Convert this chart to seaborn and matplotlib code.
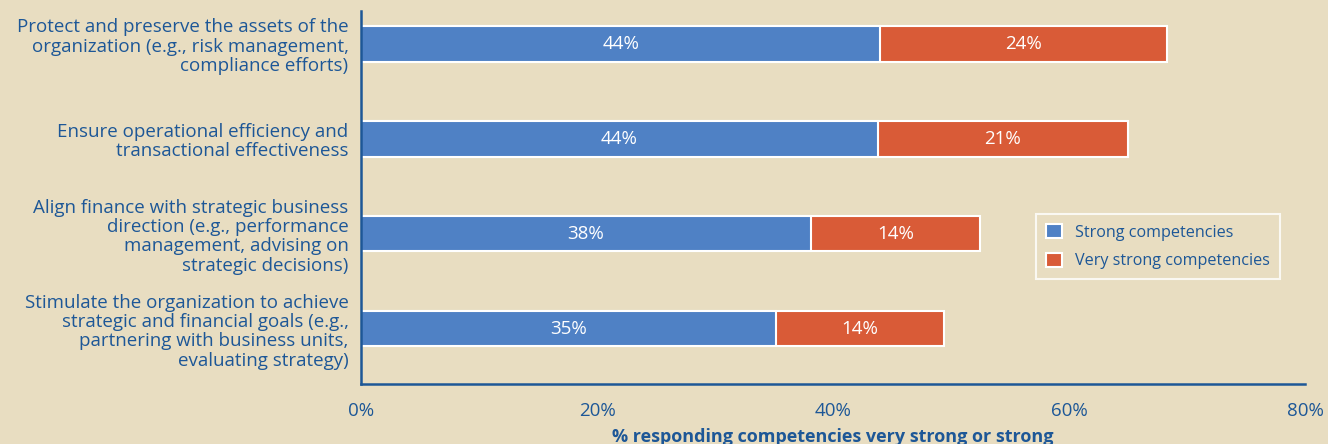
import numpy as np
import pandas as pd
import matplotlib
matplotlib.use('Agg')
import matplotlib.pyplot as plt
from matplotlib.patches import Patch
import seaborn as sns

sns.set_style("white")
plt.rcParams['font.family'] = ['Open Sans', 'DejaVu Sans']

# data
categories = [
    "Protect and preserve the assets of the\norganization (e.g., risk management,\ncompliance efforts)",
    "Ensure operational efficiency and\ntransactional effectiveness",
    "Align finance with strategic business\ndirection (e.g., performance\nmanagement, advising on\nstrategic decisions)",
    "Stimulate the organization to achieve\nstrategic and financial goals (e.g.,\npartnering with business units,\nevaluating strategy)",
]
strong = [44.0, 43.8, 38.1, 35.2]
very_strong = [24.3, 21.2, 14.4, 14.2]
xticks = [0, 20, 40, 60, 80]

df = pd.DataFrame({"cat": categories, "strong": strong, "very": very_strong})
df["total"] = df["strong"] + df["very"]

bg = "#E8DDC1"
navy = "#1D5797"
blue = "#4F81C5"
orange = "#D95B37"

fig = plt.figure(figsize=(13.28, 4.44), dpi=100, facecolor=bg)
ax = fig.add_axes([361 / 1328, 1 - 384 / 444, (1305 - 361) / 1328, (384 - 11) / 444])
ax.set_facecolor(bg)

# stacked: draw totals (orange) first, then blue over them
sns.barplot(data=df, y="cat", x="total", color=orange, orient="h", width=0.37,
            edgecolor="white", linewidth=1.5, saturation=1, ax=ax)
sns.barplot(data=df, y="cat", x="strong", color=blue, orient="h", width=0.37,
            edgecolor="white", linewidth=1.5, saturation=1, ax=ax)

# segment labels
for i, row in df.iterrows():
    ax.text(row["strong"] / 2, i, f"{row['strong']:.0f}%", color="white",
            ha="center", va="center", fontsize=13.5)
    ax.text(row["strong"] + row["very"] / 2, i, f"{row['very']:.0f}%", color="white",
            ha="center", va="center", fontsize=13.5)

ax.set_xlim(0, 80)
ax.set_ylim(3.58, -0.347)
ax.set_xticks(xticks)
ax.set_xticklabels([f"{t}%" for t in xticks], color=navy, fontsize=13.5)
ax.tick_params(axis="x", direction="out", length=6, width=1.5, color=navy, pad=7)
ax.tick_params(axis="y", length=0, pad=9, labelcolor=navy)
ax.set_yticks(range(len(categories)))
ax.set_yticklabels(categories, color=navy, fontsize=13.5, linespacing=1.1)
ax.set_yticks([-0.347], minor=True)
ax.tick_params(axis="y", which="minor", length=6, width=1.5, color=navy)

for s in ["top", "right"]:
    ax.spines[s].set_visible(False)
for s in ["left", "bottom"]:
    ax.spines[s].set_color(navy)
    ax.spines[s].set_linewidth(1.8)

ax.set_ylabel("")
ax.set_xlabel("% responding competencies very strong or strong", color=navy,
              fontsize=13, fontweight="bold")
ax.xaxis.set_label_coords(0.5, -0.118)

handles = [Patch(facecolor=blue, edgecolor="white", linewidth=1.5, label="Strong competencies"),
           Patch(facecolor=orange, edgecolor="white", linewidth=1.5, label="Very strong competencies")]
leg = ax.legend(handles=handles, loc="upper left", bbox_to_anchor=(0.707, 0.477),
                frameon=True, fancybox=False, facecolor=bg, edgecolor="white",
                fontsize=11.6, labelcolor=navy, handlelength=1.0, handleheight=1.0,
                borderpad=0.6, labelspacing=0.75, handletextpad=0.8)
leg.get_frame().set_linewidth(1.5)

fig.savefig("out.png", dpi=100, facecolor=bg)
